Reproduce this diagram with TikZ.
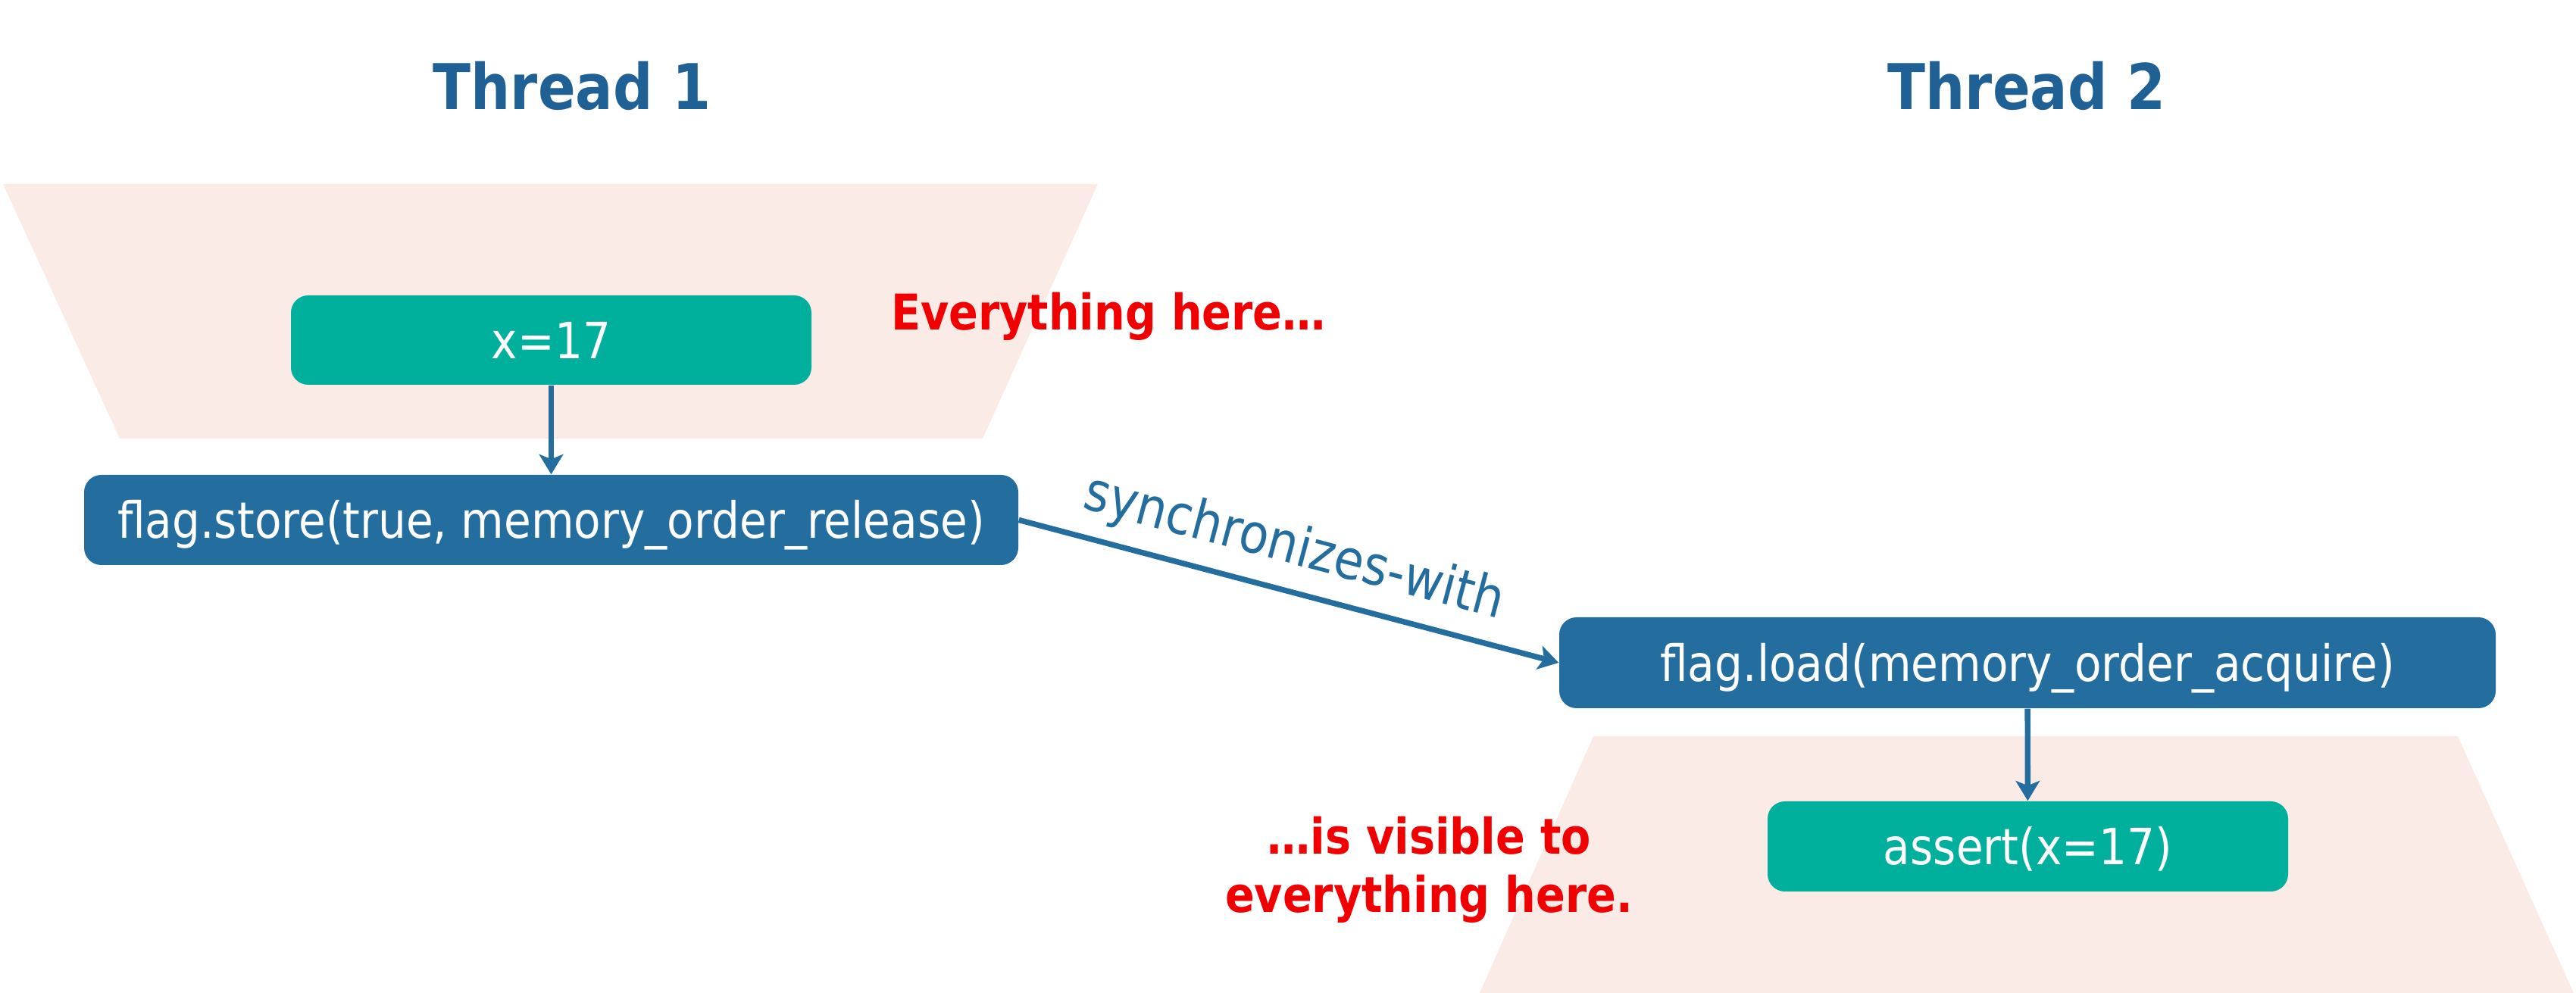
\documentclass[tikz,border=0pt]{standalone}
\usepackage{fontspec}
\setmainfont{DejaVu Sans}[FakeStretch=0.88]
\usepackage{xcolor}
\usetikzlibrary{arrows.meta}
\definecolor{opblue}{HTML}{246D9F}
\definecolor{titleblue}{HTML}{1F6195}
\definecolor{opteal}{HTML}{00AF9C}
\definecolor{zonepink}{HTML}{FBEBE6}
\definecolor{notered}{HTML}{F00000}

\begin{document}
\begin{tikzpicture}[>={Stealth[length=7.5pt,width=9pt,inset=1.8pt]},line join=round,
  opbox/.style={rectangle,rounded corners=6.5pt,fill=opblue,text=white,inner sep=0pt,
    font=\fontsize{18.8}{22}\selectfont,text height=17pt,text depth=3.2pt},
  datbox/.style={opbox,fill=opteal},
  threadtitle/.style={text=titleblue,font=\fontsize{23.7}{28}\selectfont\bfseries},
  remark/.style={text=notered,font=\fontsize{18.5}{22}\selectfont\bfseries,align=center},
  flow/.style={->,draw=opblue,line width=2.1pt}]
  \useasboundingbox (0,0) rectangle (34,13.11);
  \coordinate (R1) at (0.04,10.68);
  \coordinate (R2) at (14.49,10.68);
  \coordinate (R3) at (12.97,7.32);
  \coordinate (R4) at (1.58,7.32);
  \coordinate (Q1) at (21.03,3.39);
  \coordinate (Q2) at (32.44,3.39);
  \coordinate (Q3) at (33.97,0.00);
  \coordinate (Q4) at (19.53,0.00);
  \fill[zonepink] (R1) -- (R2) -- (R3) -- (R4) -- cycle;
  \fill[zonepink] (Q1) -- (Q2) -- (Q3) -- (Q4) -- cycle;
  \node[threadtitle] (T1) at (7.55,11.98) {Thread 1};
  \node[threadtitle] (T2) at (26.75,11.98) {Thread 2};
  \node[datbox,minimum width=6.87cm,minimum height=1.18cm] (X) at (7.275,8.62) {x=17};
  \node[opbox,minimum width=12.33cm,minimum height=1.19cm] (S) at (7.275,6.245) {flag.store(true, memory\_order\_release)};
  \node[opbox,minimum width=12.36cm,minimum height=1.20cm] (L) at (26.76,4.36) {flag.load(memory\_order\_acquire)};
  \node[datbox,minimum width=6.87cm,minimum height=1.19cm] (A) at (26.765,1.935) {assert(x=17)};
  \node[remark] (E1) at (14.63,8.93) {Everything here…};
  \node[remark] (E2) at (18.86,1.625) {…is visible to\\everything here.};
  \draw[flow] (X) -- (S);
  \draw[flow] (L) -- (A);
  \draw[flow] (S.east) -- (L.west) node[pos=0.49,sloped,above=1pt,inner sep=4pt,text=opblue,font=\fontsize{20.5}{24}\selectfont] (SW) {synchronizes-with};
\end{tikzpicture}
\end{document}
